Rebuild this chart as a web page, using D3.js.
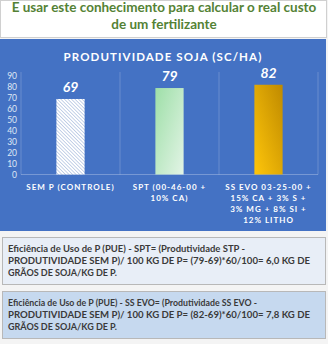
<!DOCTYPE html>
<html>
<head>
<meta charset="utf-8">
<script src="https://cdn.jsdelivr.net/npm/d3@7"></script>
<style>
  html, body { margin: 0; padding: 0; background: #f4f4f4; }
  svg { display: block; }
</style>
</head>
<body>
<div id="chart"></div>
<script>
// chart data
const categories = ["SEM P (CONTROLE)", "SPT (00-46-00 + 10% CA)", "SS EVO 03-25-00 + 15% CA + 3% S + 3% MG + 8% SI + 12% LITHO"];
const categoryLines = [
  ["SEM P (CONTROLE)"],
  ["SPT (00-46-00 +", "10% CA)"],
  ["SS EVO 03-25-00 +", "15% CA + 3% S +", "3% MG + 8% SI +", "12% LITHO"]
];
const values = [69, 79, 82];
const yTicks = [0, 10, 20, 30, 40, 50, 60, 70, 80, 90];

const headerLines = ["E usar este conhecimento para calcular o real custo", "de um fertilizante"];
const chartTitle = "PRODUTIVIDADE SOJA (SC/HA)";
const note1 = [
  "Eficiência de Uso de P (PUE) - SPT= (Produtividade STP -",
  "PRODUTIVIDADE SEM P)/ 100 KG DE P= (79-69)*60/100= 6,0 KG DE",
  "GRÃOS DE SOJA/KG DE P."
];
const note2 = [
  "Eficiência de Uso de P (PUE) - SS EVO= (Produtividade SS EVO -",
  "PRODUTIVIDADE SEM P)/ 100 KG DE P= (82-69)*60/100= 7,8 KG DE",
  "GRÃOS DE SOJA/KG DE P."
];

const W = 328, H = 344;
const font = "Lato, 'Open Sans', sans-serif";

const svg = d3.select('#chart').append('svg')
  .attr('width', W)
  .attr('height', H)
  .style('font-family', font);

const defs = svg.append('defs');

// hatch for the control bar
const hatch = defs.append('pattern')
  .attr('id', 'hatch')
  .attr('patternUnits', 'userSpaceOnUse')
  .attr('width', 2.5)
  .attr('height', 2.5)
  .attr('patternTransform', 'rotate(-45)');
hatch.append('rect').attr('width', 2.5).attr('height', 2.5).attr('fill', '#ffffff');
hatch.append('line')
  .attr('x1', 0).attr('y1', 0).attr('x2', 0).attr('y2', 2.5)
  .attr('stroke', '#8ea6d3').attr('stroke-width', 1);

const gGreen = defs.append('linearGradient').attr('id', 'gGreen')
  .attr('x1', '0%').attr('y1', '0%').attr('x2', '100%').attr('y2', '100%');
gGreen.append('stop').attr('offset', '0%').attr('stop-color', '#9edfa8');
gGreen.append('stop').attr('offset', '100%').attr('stop-color', '#e3f4e6');

const gGold = defs.append('linearGradient').attr('id', 'gGold')
  .attr('x1', '0%').attr('y1', '100%').attr('x2', '100%').attr('y2', '0%');
gGold.append('stop').attr('offset', '0%').attr('stop-color', '#ffc60a');
gGold.append('stop').attr('offset', '100%').attr('stop-color', '#bf8a00');

const fills = ['url(#hatch)', 'url(#gGreen)', 'url(#gGold)'];

// header box
svg.append('rect')
  .attr('x', 0.5).attr('y', 0.5).attr('width', 326).attr('height', 37)
  .attr('fill', '#ffffff').attr('stroke', '#d0d0d0');

svg.append('g').selectAll('text')
  .data(headerLines)
  .join('text')
  .attr('x', 164)
  .attr('y', (d, i) => 12 + i * 17)
  .attr('text-anchor', 'middle')
  .attr('font-size', 13.5)
  .attr('font-weight', 'bold')
  .attr('fill', '#548235')
  .text(d => d);

// blue chart panel
svg.append('rect')
  .attr('x', 0).attr('y', 39).attr('width', 326).attr('height', 192)
  .attr('fill', '#4472c4');

svg.append('text')
  .attr('x', 163)
  .attr('y', 61)
  .attr('text-anchor', 'middle')
  .attr('font-size', 11.5)
  .attr('font-weight', 'bold')
  .attr('letter-spacing', 1.1)
  .attr('fill', '#ffffff')
  .text(chartTitle);

const x = d3.scaleBand()
  .domain(categories)
  .range([21, 318])
  .padding(0);

const y = d3.scaleLinear()
  .domain([0, 90])
  .range([174.5, 76]);

// category separators
svg.append('g').selectAll('line')
  .data([0, 1, 2, 3])
  .join('line')
  .attr('x1', i => 21 + i * x.step())
  .attr('x2', i => 21 + i * x.step())
  .attr('y1', 72)
  .attr('y2', y(0))
  .attr('stroke', '#ffffff')
  .attr('stroke-opacity', 0.25)
  .attr('stroke-width', 0.8);

// y axis
const yAxis = svg.append('g')
  .attr('transform', 'translate(17,0)')
  .call(d3.axisLeft(y).tickValues(yTicks).tickSize(0).tickPadding(0));
yAxis.select('.domain').remove();
yAxis.selectAll('text')
  .attr('fill', '#dfe7f5')
  .attr('font-size', 8.5)
  .attr('font-family', font);

// baseline
svg.append('line')
  .attr('x1', 21).attr('x2', 318)
  .attr('y1', y(0)).attr('y2', y(0))
  .attr('stroke', '#ffffff')
  .attr('stroke-opacity', 0.35)
  .attr('stroke-width', 0.8);

const barW = x.bandwidth() * 0.285;

svg.append('g').selectAll('rect')
  .data(values)
  .join('rect')
  .attr('x', (d, i) => x(categories[i]) + x.bandwidth() / 2 - barW / 2)
  .attr('y', d => y(d))
  .attr('width', barW)
  .attr('height', d => y(0) - y(d))
  .attr('fill', (d, i) => fills[i]);

// value labels
svg.append('g').selectAll('text')
  .data(values)
  .join('text')
  .attr('x', (d, i) => x(categories[i]) + x.bandwidth() / 2)
  .attr('y', d => y(d) - 7)
  .attr('text-anchor', 'middle')
  .attr('font-size', 14)
  .attr('font-weight', 'bold')
  .attr('font-style', 'italic')
  .attr('fill', '#ffffff')
  .text(d => d);

// category labels
const xl = svg.append('g').selectAll('g')
  .data(categories)
  .join('g')
  .attr('transform', d => `translate(${x(d) + x.bandwidth() / 2},0)`);
xl.selectAll('text')
  .data((d, i) => categoryLines[i])
  .join('text')
  .attr('x', 0)
  .attr('y', (d, i) => 190 + i * 11)
  .attr('text-anchor', 'middle')
  .attr('font-size', 8)
  .attr('font-weight', 'bold')
  .attr('letter-spacing', 1)
  .attr('fill', '#ffffff')
  .text(d => d);

// note boxes (line widths squeezed to match the narrow original face)
const notes = [
  { lines: note1, y: 237, fill: '#e8eef7', widths: [237, 302, 109] },
  { lines: note2, y: 291, fill: '#c6d9ef', widths: [249, 302, 109] }
];
notes.forEach(n => {
  svg.append('rect')
    .attr('x', 2.5).attr('y', n.y + 0.5).attr('width', 323).attr('height', 47)
    .attr('fill', n.fill).attr('stroke', '#b8b8b8');
  svg.append('g').selectAll('text')
    .data(n.lines)
    .join('text')
    .attr('x', 8)
    .attr('y', (d, i) => n.y + 15 + i * 12)
    .attr('font-size', 10)
    .attr('font-weight', 'bold')
    .attr('fill', '#3a3a3a')
    .attr('textLength', (d, i) => n.widths[i])
    .attr('lengthAdjust', 'spacingAndGlyphs')
    .text(d => d);
});
</script>
</body>
</html>
